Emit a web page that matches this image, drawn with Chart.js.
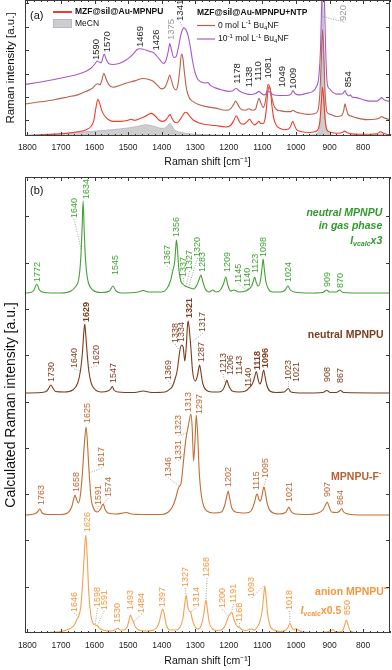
<!DOCTYPE html>
<html>
<head>
<meta charset="utf-8">
<script src="https://cdn.jsdelivr.net/npm/chart.js@4.4.1/dist/chart.umd.min.js"></script>
<style>
  body { margin: 0; background: #fff; width: 392px; height: 670px; overflow: hidden; position: relative; }
  #wrapA { position: absolute; left: 0; top: 0; width: 392px; height: 170px; }
  #wrapB { position: absolute; left: 0; top: 170px; width: 392px; height: 500px; }
</style>
</head>
<body>
<div id="wrapA"><canvas id="chartA"></canvas></div>
<div id="wrapB"><canvas id="chartB"></canvas></div>
<script>
const shiftTicks = [1800, 1700, 1600, 1500, 1400, 1300, 1200, 1100, 1000, 900, 800];

// (a) measured spectra, [Raman shift, intensity a.u.]
const mecnA = [[1807,2],[1750,5],[1700,8],[1650,11],[1600,14],[1550,18],[1500,23],[1470,28],[1450,32],[1435,31],[1420,27],[1400,22],[1388,24],[1380,32],[1375,36],[1370,30],[1362,18],[1350,12],[1330,8],[1300,5],[1250,3],[1200,2],[1100,1.5],[1000,1.5],[950,3],[935,10],[928,40],[924,150],[921,420],[918,300],[914,80],[908,20],[900,6],[880,2],[800,1],[760,2],[748,6],[740,3],[720,1]];
const redA = [[1807,0],[1760,3],[1720,5],[1680,8],[1650,12],[1625,18],[1610,28],[1602,45],[1596,80],[1590,105],[1585,95],[1578,72],[1570,58],[1560,48],[1545,42],[1520,42],[1500,45],[1490,48],[1482,45],[1465,50],[1450,56],[1440,62],[1430,65],[1420,58],[1408,46],[1398,42],[1388,46],[1380,56],[1375,62],[1370,52],[1362,40],[1354,38],[1346,46],[1338,58],[1330,68],[1324,66],[1315,55],[1305,45],[1290,38],[1270,33],[1240,30],[1210,26],[1195,30],[1185,45],[1178,58],[1172,48],[1164,35],[1155,34],[1145,42],[1138,48],[1132,40],[1124,32],[1117,36],[1111,42],[1105,36],[1098,36],[1092,50],[1088,80],[1084,125],[1080,142],[1076,130],[1072,90],[1066,50],[1058,30],[1048,22],[1035,18],[1022,20],[1015,30],[1010,42],[1005,32],[998,18],[985,13],[960,10],[945,12],[935,18],[929,40],[925,90],[921,140],[917,100],[913,45],[908,18],[895,10],[875,8],[862,10],[855,14],[848,10],[835,6],[810,5],[780,5],[760,6],[748,12],[740,8],[725,4],[720,4]];
const ntp0A = [[1807,92],[1760,98],[1720,104],[1680,112],[1650,118],[1625,128],[1605,138],[1595,148],[1590,150],[1584,147],[1578,160],[1572,180],[1566,165],[1558,148],[1545,140],[1525,145],[1505,152],[1480,158],[1455,165],[1440,163],[1425,157],[1412,145],[1400,135],[1390,140],[1382,158],[1376,175],[1371,160],[1364,138],[1357,132],[1351,150],[1346,190],[1341,235],[1337,225],[1332,180],[1326,135],[1318,110],[1305,98],[1290,90],[1270,85],[1240,80],[1210,74],[1195,78],[1186,90],[1180,100],[1174,92],[1165,78],[1150,74],[1140,78],[1130,74],[1120,78],[1115,95],[1110,108],[1105,96],[1098,82],[1092,95],[1088,120],[1083,148],[1078,140],[1073,115],[1066,88],[1058,76],[1045,72],[1030,70],[1015,70],[1009,74],[1003,70],[990,66],[965,62],[945,64],[935,72],[929,120],[925,210],[921,305],[917,230],[913,120],[908,70],[898,62],[880,56],[865,58],[858,72],[854,92],[850,78],[845,62],[835,57],[820,52],[790,47],[765,48],[750,52],[745,56],[738,52],[725,48],[720,47]];
const ntp1A = [[1807,148],[1760,155],[1720,162],[1680,170],[1650,177],[1625,186],[1610,195],[1600,205],[1592,215],[1586,212],[1580,210],[1576,222],[1571,235],[1566,222],[1558,208],[1545,205],[1530,207],[1515,213],[1500,222],[1485,235],[1473,248],[1465,250],[1455,249],[1445,246],[1435,242],[1426,240],[1415,230],[1405,218],[1395,208],[1386,220],[1380,245],[1376,265],[1371,248],[1364,225],[1357,228],[1350,255],[1345,280],[1340,300],[1334,310],[1328,305],[1322,290],[1315,258],[1308,215],[1300,180],[1292,162],[1282,155],[1270,152],[1262,153],[1255,145],[1240,138],[1220,132],[1200,128],[1188,130],[1178,136],[1170,130],[1158,124],[1145,120],[1135,119],[1120,122],[1110,128],[1103,122],[1095,118],[1088,122],[1082,128],[1076,124],[1068,118],[1050,116],[1030,116],[1015,120],[1009,130],[1003,122],[990,118],[970,122],[950,128],[940,140],[932,170],[927,250],[923,400],[920,520],[916,420],[912,260],[907,150],[900,135],[890,125],[878,120],[870,120],[860,122],[854,130],[849,120],[842,115],[838,118],[833,112],[820,110],[800,104],[780,100],[760,100],[750,106],[745,110],[738,104],[725,100],[720,100]];

// (b) calculated spectra (stacked), [Raman shift, intensity a.u.]
const gasB = [[1807,340],[1790,340.5],[1780,343],[1772,349],[1764,343],[1750,340.5],[1700,340],[1670,342],[1655,347],[1648,352],[1643,365],[1640,380],[1637,405],[1634,432],[1631,405],[1628,380],[1624,362],[1618,350],[1605,343],[1580,340.5],[1555,342],[1545,347],[1536,342],[1520,340],[1470,341],[1455,342.5],[1440,341],[1400,341],[1385,344],[1374,352],[1367,362],[1361,372],[1358,386],[1356,393],[1353,384],[1349,364],[1343,352],[1337,349],[1330,347],[1323,346],[1315,345],[1305,344],[1295,348],[1288,354],[1283,358],[1278,352],[1270,344],[1258,341],[1248,343],[1238,341],[1225,343],[1216,349],[1209,356],[1203,348],[1195,342],[1185,343],[1170,341],[1150,342],[1140,344],[1132,347],[1127,352],[1123,356],[1118,350],[1112,347],[1106,352],[1101,365],[1098,374],[1095,366],[1090,352],[1082,344],[1070,341],[1045,341],[1032,343],[1024,347],[1017,343],[1005,341],[960,340],[920,340.5],[909,343],[900,341],[880,341],[870,343],[860,340.5],[800,340],[720,340]];
const neutralB = [[1807,240],[1760,240.5],[1742,242],[1736,245],[1730,248],[1724,245],[1716,241.5],[1690,241],[1665,243],[1650,250],[1642,262],[1636,280],[1632,300],[1629,309],[1626,298],[1622,280],[1617,262],[1610,250],[1600,244],[1580,241],[1560,242],[1552,244],[1547,246.5],[1542,243],[1530,241],[1480,240.5],[1455,242],[1430,240.5],[1390,241],[1375,244],[1369,246],[1362,252],[1354,262],[1346,282],[1341,288],[1336,286],[1331,272],[1327,285],[1323,308],[1321,312],[1318,305],[1313,285],[1308,262],[1300,252],[1293,258],[1289,266],[1287,268],[1284,263],[1278,250],[1268,243],[1250,241],[1230,241],[1218,243],[1210,249],[1206,253],[1201,248],[1190,242],[1170,241],[1150,242],[1140,245],[1130,249],[1124,255],[1118,261.5],[1113,254],[1108,249],[1103,252],[1099,260],[1096,263],[1093,258],[1087,248],[1078,242],[1060,240.5],[1035,241],[1023,244.5],[1015,241],[980,240],[920,240.5],[908,242.5],[898,240.5],[880,240.5],[867,242.5],[858,240.5],[720,240]];
const fluorideB = [[1807,118],[1780,119],[1770,121],[1763,124],[1756,120],[1740,118.5],[1700,118.5],[1680,120],[1668,126],[1662,134],[1658,138],[1654,134],[1648,130],[1642,138],[1636,160],[1630,190],[1625,206],[1621,190],[1616,160],[1610,134],[1602,124],[1592,121],[1584,123],[1578,127],[1574,129],[1569,124],[1560,120],[1535,119],[1515,120],[1505,120.5],[1490,119],[1450,118.5],[1400,118.5],[1380,121],[1368,126],[1358,135],[1350,145],[1346,147],[1342,150],[1337,165],[1331,185],[1326,198],[1323,203],[1318,212],[1313,219],[1309,205],[1305,172],[1301,190],[1297,218],[1293,200],[1288,160],[1282,138],[1275,127],[1265,122],[1245,120],[1222,121],[1212,128],[1206,137],[1202,142],[1198,136],[1192,126],[1180,121],[1150,120],[1134,122],[1124,130],[1118,138],[1115,139],[1111,134],[1106,132],[1101,138],[1097,145],[1095,146],[1092,142],[1086,130],[1076,122],[1050,119],[1031,120.5],[1025,124],[1021,126],[1017,123],[1008,119.5],[970,118.5],[935,120],[920,123],[912,128],[907,131],[902,127],[894,121],[878,120.5],[870,122],[864,124.5],[858,121],[845,119],[800,118],[720,118]];
const anionB = [[1807,0],[1740,0.5],[1700,1.5],[1675,4],[1660,8],[1652,14],[1646,18],[1641,26],[1635,52],[1630,82],[1626,98],[1622,78],[1617,40],[1611,18],[1605,10],[1598,8],[1591,7],[1582,4],[1570,2.5],[1550,2],[1537,3.5],[1530,5],[1524,3],[1512,3],[1503,6],[1497,13],[1493,18],[1489,15],[1484,11],[1478,6],[1468,3],[1445,2],[1430,2.5],[1418,4],[1408,10],[1401,20],[1397,24],[1393,20],[1386,8],[1375,3],[1358,3],[1345,6],[1337,14],[1331,30],[1327,38],[1323,28],[1318,22],[1314,21],[1309,14],[1300,6],[1290,4],[1282,8],[1275,18],[1271,28],[1268,33],[1264,24],[1258,10],[1248,4],[1235,2.5],[1220,3.5],[1210,8],[1204,14],[1200,17],[1196,19],[1191,21],[1186,15],[1178,8],[1172,6],[1168,5.5],[1162,3.5],[1150,2.5],[1140,3.5],[1132,4],[1124,3],[1115,6],[1108,11],[1101,22],[1096,38],[1093,47],[1089,36],[1084,18],[1077,7],[1065,3],[1045,1.5],[1030,3],[1023,6],[1018,10],[1013,6],[1006,3],[1000,4.5],[994,3],[980,1],[950,0.5],[910,1],[897,2],[890,3.5],[884,1.5],[870,1],[860,3],[855,8],[850,13],[845,8],[838,2],[820,0.5],[720,0]];

// peak labels: [text, shift, height, leader shift, leader height]
const peaksA = [['1590',1593,218],['1570',1563,240],['1469',1464,255],['1426',1416,245],['1375',1372,275],['1341',1345,330,1338,312],['1178',1174,150],['1138',1138,140],['1110',1111,158],['1081',1083,165],['1049',1041,140],['1009',1007,135],['854',845,140],['920',858,330,930,345]];
const grayA = ['1375', '920'];
const gasPeaks = [['1772',1770,351],['1640',1661,415,1640,384],['1634',1625,434],['1545',1538,358],['1367',1384,368,1367,362],['1356',1355,396],['1337',1335,356,1337,349],['1327',1317,363,1327,347],['1320',1293,376,1320,346],['1283',1277,361],['1209',1204,361],['1145',1171,350,1145,342],['1140',1144,346,1140,344],['1123',1121,360],['1098',1096,376],['1024',1022,351],['909',905,346],['870',868,345]];
const neutralPeaks = [['1730',1727,251],['1640',1661,265,1642,262],['1629',1625,311],['1620',1593,268,1618,265],['1547',1544,250],['1369',1380,253,1369,246],['1338',1360,290,1346,282],['1334',1340,291],['1321',1317,315],['1317',1277,301,1313,290],['1287',1280,271],['1213',1217,260,1210,249],['1206',1196,258],['1143',1168,258],['1140',1141,246,1140,245],['1118',1116,263],['1096',1091,265],['1023',1022,253,1023,245],['1021',997,251],['908',905,251],['867',868,250]];
const boldNeutral = ['1629', '1321', '1118', '1096'];
const fluoridePeaks = [['1625',1622,210],['1323',1350,198,1326,200],['1313',1320,221],['1297',1287,219],['1763',1757,128],['1658',1655,141],['1617',1578,166,1616,160],['1591',1588,128,1595,122],['1574',1558,136,1574,129],['1346',1380,156,1348,147],['1331',1350,173,1333,180],['1202',1201,146],['1115',1118,143],['1095',1090,155,1094,147],['1021',1019,131],['907',905,136],['864',866,128]];
const anionPeaks = [['1626',1622,101],['1646',1661,21,1646,16],['1598',1591,26,1598,9],['1591',1571,23,1591,8],['1530',1532,10],['1493',1494,23],['1484',1459,20,1484,11],['1397',1396,26],['1327',1330,46,1328,39],['1314',1297,26,1313,21],['1268',1265,56,1268,34],['1200',1220,25,1202,17],['1191',1186,30,1191,22],['1168',1168,11,1168,6],['1093',1131,36,1097,47],['1018',1019,23,1018,11],['850',848,18]];

const FONT = "'Liberation Sans', Arial, sans-serif";
const C = { red: '#f03c2a', ntp0: '#b9604e', ntp1: '#a55ac8', mecn: '#cdcdcd', mecnLine: '#b9b0c9',
  gas: '#41a235', neutral: '#7c3d1c', fluoride: '#c36d33', anion: '#f6a04f' };

function ds(points, color, extra) {
  return Object.assign({
    data: points.map(p => ({ x: p[0], y: p[1] })),
    borderColor: color, borderWidth: 1.1, pointRadius: 0,
    cubicInterpolationMode: 'monotone', fill: false
  }, extra || {});
}

function line(ctx, x1, y1, x2, y2) {
  ctx.beginPath(); ctx.moveTo(x1, y1); ctx.lineTo(x2, y2); ctx.stroke();
}

function drawFrame(chart, yTicks) {
  const { ctx, chartArea: a, scales: { x, y } } = chart;
  ctx.save();
  ctx.strokeStyle = '#3a3a3a';
  ctx.lineWidth = 1;
  ctx.strokeRect(a.left + 0.5, a.top + 0.5, a.right - a.left - 1, a.bottom - a.top - 1);
  for (let v = 720; v <= 1800; v += 20) {
    const px = Math.round(x.getPixelForValue(v)) + 0.5;
    const len = v % 100 === 0 ? 4 : 2;
    line(ctx, px, a.bottom, px, a.bottom - len);
    line(ctx, px, a.top, px, a.top + len);
  }
  yTicks.forEach(v => {
    const py = Math.round(y.getPixelForValue(v)) + 0.5;
    line(ctx, a.left, py, a.left + 4, py);
    line(ctx, a.right, py, a.right - 4, py);
  });
  ctx.restore();
}

function drawPeaks(chart, list, colorOf, fontOf) {
  const { ctx, scales: { x, y } } = chart;
  list.forEach(p => {
    const px = x.getPixelForValue(p[1]), py = y.getPixelForValue(p[2]);
    ctx.save();
    if (p.length > 3) {
      ctx.strokeStyle = '#8a8a8a'; ctx.lineWidth = 0.8; ctx.setLineDash([1, 1.5]);
      line(ctx, px, py + 1, x.getPixelForValue(p[3]), y.getPixelForValue(p[4]));
      ctx.setLineDash([]);
    }
    ctx.translate(px, py);
    ctx.rotate(-Math.PI / 2);
    ctx.fillStyle = colorOf(p[0]);
    ctx.font = fontOf(p[0]);
    ctx.textAlign = 'left'; ctx.textBaseline = 'middle';
    ctx.fillText(p[0], 0, 0);
    ctx.restore();
  });
}

function drawRuns(ctx, parts, x, y, align, color) {
  ctx.save();
  let w = 0;
  parts.forEach(p => { ctx.font = p[1]; w += ctx.measureText(p[0]).width; });
  let cx = align === 'right' ? x - w : x;
  ctx.fillStyle = color; ctx.textAlign = 'left'; ctx.textBaseline = 'middle';
  parts.forEach(p => { ctx.font = p[1]; ctx.fillText(p[0], cx, y + (p[2] || 0)); cx += ctx.measureText(p[0]).width; });
  ctx.restore();
}

function axes(yMax, yTitle, opt) {
  return {
    x: {
      type: 'linear', reverse: true, min: 720, max: 1807,
      afterFit: s => { s.height = opt.h; },
      afterBuildTicks: s => { s.ticks = shiftTicks.map(v => ({ value: v })); },
      grid: { display: false, drawTicks: false }, border: { display: false },
      ticks: { color: '#222', font: { family: FONT, size: 8.5 }, padding: opt.p, maxRotation: 0, autoSkip: false,
        callback: v => String(v) },
      title: { display: true, text: 'Raman shift [cm⁻¹]', color: '#111', font: { family: FONT, size: 10.5 }, padding: { top: 0, bottom: opt.t } }
    },
    y: {
      min: 0, max: yMax,
      afterFit: s => { s.width = 25; },
      grid: { display: false, drawTicks: false }, border: { display: false },
      ticks: { display: false },
      title: { display: true, text: yTitle, color: '#111', font: { family: FONT, size: opt.ys }, padding: { top: opt.yp, bottom: 0 } }
    }
  };
}

const yTicksA = [45, 112, 179, 246, 313, 380];
const yTicksB = [46.3, 92.6, 138.9, 185.2, 231.5, 277.8, 324.1, 370.4, 416.7];

new Chart(document.getElementById('chartA'), {
  type: 'line',
  data: {
    datasets: [
      ds(mecnA, C.mecnLine, { fill: 'origin', backgroundColor: C.mecn, order: 4, borderWidth: 0.8 }),
      ds(redA, C.red, { order: 3 }),
      ds(ntp0A, C.ntp0, { order: 2 }),
      ds(ntp1A, C.ntp1, { order: 1 })
    ]
  },
  options: {
    responsive: true, maintainAspectRatio: false, animation: false,
    layout: { padding: { left: 0, right: 2, top: 0, bottom: 1 } },
    plugins: { legend: { display: false }, tooltip: { enabled: false } },
    scales: axes(390, 'Raman intensity [a.u.]', { h: 33, p: 7, t: 1, ys: 11.5, yp: 4 })
  },
  plugins: [{
    id: 'decorA',
    afterDatasetsDraw(chart) {
      const { ctx, chartArea: a } = chart;
      drawFrame(chart, yTicksA);
      drawPeaks(chart, peaksA, t => grayA.includes(t) ? '#9a9a9a' : '#1e1e1e', () => '9.5px ' + FONT);
      ctx.save();
      ctx.fillStyle = '#111'; ctx.font = '11px ' + FONT; ctx.textBaseline = 'middle';
      ctx.fillText('(a)', a.left + 5, a.top + 16);
      // legend
      ctx.strokeStyle = C.red; ctx.lineWidth = 2; line(ctx, 53, 12, 72, 12);
      ctx.fillStyle = C.mecn; ctx.fillRect(53, 19, 19, 9);
      ctx.strokeStyle = C.mecnLine; ctx.lineWidth = 0.8; ctx.strokeRect(53.5, 19.5, 18, 8);
      ctx.strokeStyle = C.ntp0; ctx.lineWidth = 1.2; line(ctx, 197, 25.5, 215, 25.5);
      ctx.strokeStyle = C.ntp1; line(ctx, 197, 39, 215, 39);
      ctx.fillStyle = '#111';
      ctx.font = 'bold 8.5px ' + FONT;
      ctx.fillText('MZF@sil@Au-MPNPU', 75, 12);
      ctx.fillText('MZF@sil@Au-MPNPU+NTP', 197, 13);
      ctx.font = '8.5px ' + FONT;
      ctx.fillText('MeCN', 75, 24);
      ctx.restore();
      drawRuns(ctx, [['0 mol L', '8.5px ' + FONT], ['-1', '6px ' + FONT, -3], [' Bu', '8.5px ' + FONT], ['4', '6px ' + FONT, 2.5], ['NF', '8.5px ' + FONT]], 218, 25.5, 'left', '#111');
      drawRuns(ctx, [['10', '8.5px ' + FONT], ['-1', '6px ' + FONT, -3], [' mol L', '8.5px ' + FONT], ['-1', '6px ' + FONT, -3], [' Bu', '8.5px ' + FONT], ['4', '6px ' + FONT, 2.5], ['NF', '8.5px ' + FONT]], 218, 39, 'left', '#111');
    }
  }]
});

new Chart(document.getElementById('chartB'), {
  type: 'line',
  data: {
    datasets: [
      ds(gasB, C.gas),
      ds(neutralB, C.neutral),
      ds(fluorideB, C.fluoride),
      ds(anionB, C.anion)
    ]
  },
  options: {
    responsive: true, maintainAspectRatio: false, animation: false,
    layout: { padding: { left: 0, right: 2, top: 7, bottom: 1 } },
    plugins: { legend: { display: false }, tooltip: { enabled: false } },
    scales: axes(456, 'Calculated Raman intensity [a.u.]', { h: 36, p: 8, t: 2, ys: 14, yp: 3 })
  },
  plugins: [{
    id: 'decorB',
    afterDatasetsDraw(chart) {
      const { ctx, chartArea: a, scales: { x, y } } = chart;
      drawFrame(chart, yTicksB);
      const f9 = () => '9px ' + FONT;
      drawPeaks(chart, gasPeaks, () => C.gas, f9);
      drawPeaks(chart, neutralPeaks, () => C.neutral, t => (boldNeutral.includes(t) ? 'bold ' : '') + '9px ' + FONT);
      drawPeaks(chart, fluoridePeaks, () => '#bd6630', f9);
      drawPeaks(chart, anionPeaks, () => '#f4973f', f9);
      ctx.save();
      ctx.fillStyle = '#111'; ctx.font = '11px ' + FONT; ctx.textBaseline = 'middle';
      ctx.fillText('(b)', a.left + 5, a.top + 14);
      ctx.restore();
      const bi = 'italic bold 10.5px ' + FONT, bis = 'italic bold 7px ' + FONT;
      const b = 'bold 10.5px ' + FONT, bs = 'bold 7px ' + FONT;
      drawRuns(ctx, [['neutral MPNPU', bi]], x.getPixelForValue(743), y.getPixelForValue(420), 'right', '#2f9a2a');
      drawRuns(ctx, [['in gas phase', bi]], x.getPixelForValue(743), y.getPixelForValue(407), 'right', '#2f9a2a');
      drawRuns(ctx, [['I', bi], ['vcalc', bis, 3], ['x3', bi]], x.getPixelForValue(743), y.getPixelForValue(392), 'right', '#2f9a2a');
      drawRuns(ctx, [['neutral MPNPU', b]], x.getPixelForValue(739), y.getPixelForValue(298), 'right', C.neutral);
      drawRuns(ctx, [['MPNPU-F', b], ['-', bs, -4]], x.getPixelForValue(746), y.getPixelForValue(156), 'right', '#b9602c');
      drawRuns(ctx, [['anion MPNPU', b], ['•-', bs, -4]], x.getPixelForValue(724), y.getPixelForValue(41), 'right', '#f4973f');
      drawRuns(ctx, [['I', bi], ['vcalc', bs, 3], ['x0.5', b]], x.getPixelForValue(865), y.getPixelForValue(22), 'right', '#f4973f');
    }
  }]
});
</script>
</body>
</html>
